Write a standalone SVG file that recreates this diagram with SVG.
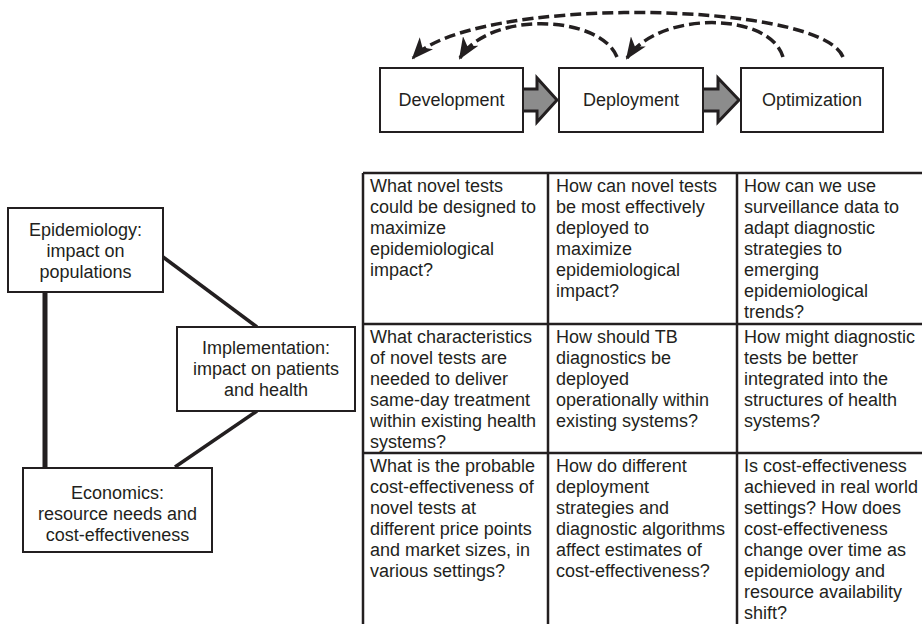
<svg xmlns="http://www.w3.org/2000/svg" width="922" height="624" viewBox="0 0 922 624">
<defs>
<style>
text{font-family:"Liberation Sans",Arial,sans-serif;font-size:18px;fill:#231f20}
.c{text-anchor:middle}
.box{fill:#fff;stroke:#231f20;stroke-width:2}
.dash{fill:none;stroke:#231f20;stroke-width:3.5;stroke-dasharray:11 5}
.blk{fill:#8c8c8c;stroke:#231f20;stroke-width:3;stroke-linejoin:miter}
.tl{stroke:#231f20;stroke-width:2.5;fill:none}
.lk{stroke:#231f20;fill:none}
</style>
<marker id="ah" viewBox="0 0 22 18" refX="20" refY="9" markerWidth="22" markerHeight="18" markerUnits="userSpaceOnUse" orient="auto">
<path d="M0,0 L22,9 L0,18 L6,9 Z" fill="#231f20"/>
</marker>
</defs>

<g id="connectors">
<path class="dash" d="M843,57 C820,0 470,-5 413,58" marker-end="url(#ah)"/>
<path class="dash" d="M617,57 C600,15 490,10 460,58" marker-end="url(#ah)"/>
<path class="dash" d="M783,57 C770,12 660,10 627,58" marker-end="url(#ah)"/>
<polygon class="blk" points="520,89 537,89 537,78 557,100 537,122 537,111 520,111"/>
<polygon class="blk" points="700,89 718,89 718,78 739,100 718,122 718,111 700,111"/>
<line class="lk" stroke-width="5" x1="45" y1="292" x2="45" y2="468"/>
<line class="lk" stroke-width="3.5" x1="163" y1="257" x2="257" y2="327"/>
<line class="lk" stroke-width="3.5" x1="257" y1="411" x2="175" y2="467"/>
</g>

<g id="development">
<rect class="box" x="380" y="68" width="143" height="64"/>
<text class="c" x="451.5" y="106">Development</text>
</g>
<g id="deployment">
<rect class="box" x="559" y="68" width="144" height="64"/>
<text class="c" x="631" y="106">Deployment</text>
</g>
<g id="optimization">
<rect class="box" x="741" y="68" width="142" height="64"/>
<text class="c" x="812" y="106">Optimization</text>
</g>

<g id="epidemiology">
<rect class="box" x="8" y="208" width="155" height="84"/>
<text class="c" x="85.5" y="236">Epidemiology:<tspan x="85.5" dy="21">impact on</tspan><tspan x="85.5" dy="21">populations</tspan></text>
</g>
<g id="implementation">
<rect class="box" x="177" y="327" width="178" height="84"/>
<text class="c" x="266" y="354">Implementation:<tspan x="266" dy="21">impact on patients</tspan><tspan x="266" dy="21">and health</tspan></text>
</g>
<g id="economics">
<rect class="box" x="23" y="468" width="189" height="84"/>
<text class="c" x="117.5" y="499">Economics:<tspan x="117.5" dy="21">resource needs and</tspan><tspan x="117.5" dy="21">cost-effectiveness</tspan></text>
</g>

<g id="table">
<path class="tl" d="M363,173 H922 M363,324 H922 M363,453 H922 M363,173 V624 M548,173 V624 M737,173 V624"/>
</g>

<g id="cell-1-1">
<text x="370" y="192">What novel tests<tspan x="370" dy="21">could be designed to</tspan><tspan x="370" dy="21">maximize</tspan><tspan x="370" dy="21">epidemiological</tspan><tspan x="370" dy="21">impact?</tspan></text>
</g>
<g id="cell-1-2">
<text x="556" y="192">How can novel tests<tspan x="556" dy="21">be most effectively</tspan><tspan x="556" dy="21">deployed to</tspan><tspan x="556" dy="21">maximize</tspan><tspan x="556" dy="21">epidemiological</tspan><tspan x="556" dy="21">impact?</tspan></text>
</g>
<g id="cell-1-3">
<text x="744" y="192">How can we use<tspan x="744" dy="21">surveillance data to</tspan><tspan x="744" dy="21">adapt diagnostic</tspan><tspan x="744" dy="21">strategies to</tspan><tspan x="744" dy="21">emerging</tspan><tspan x="744" dy="21">epidemiological</tspan><tspan x="744" dy="21">trends?</tspan></text>
</g>
<g id="cell-2-1">
<text x="370" y="343">What characteristics<tspan x="370" dy="21">of novel tests are</tspan><tspan x="370" dy="21">needed to deliver</tspan><tspan x="370" dy="21">same-day treatment</tspan><tspan x="370" dy="21">within existing health</tspan><tspan x="370" dy="21">systems?</tspan></text>
</g>
<g id="cell-2-2">
<text x="556" y="343">How should TB<tspan x="556" dy="21">diagnostics be</tspan><tspan x="556" dy="21">deployed</tspan><tspan x="556" dy="21">operationally within</tspan><tspan x="556" dy="21">existing systems?</tspan></text>
</g>
<g id="cell-2-3">
<text x="744" y="343">How might diagnostic<tspan x="744" dy="21">tests be better</tspan><tspan x="744" dy="21">integrated into the</tspan><tspan x="744" dy="21">structures of health</tspan><tspan x="744" dy="21">systems?</tspan></text>
</g>
<g id="cell-3-1">
<text x="370" y="472">What is the probable<tspan x="370" dy="21">cost-effectiveness of</tspan><tspan x="370" dy="21">novel tests at</tspan><tspan x="370" dy="21">different price points</tspan><tspan x="370" dy="21">and market sizes, in</tspan><tspan x="370" dy="21">various settings?</tspan></text>
</g>
<g id="cell-3-2">
<text x="556" y="472">How do different<tspan x="556" dy="21">deployment</tspan><tspan x="556" dy="21">strategies and</tspan><tspan x="556" dy="21">diagnostic algorithms</tspan><tspan x="556" dy="21">affect estimates of</tspan><tspan x="556" dy="21">cost-effectiveness?</tspan></text>
</g>
<g id="cell-3-3">
<text x="744" y="472">Is cost-effectiveness<tspan x="744" dy="21">achieved in real world</tspan><tspan x="744" dy="21">settings? How does</tspan><tspan x="744" dy="21">cost-effectiveness</tspan><tspan x="744" dy="21">change over time as</tspan><tspan x="744" dy="21">epidemiology and</tspan><tspan x="744" dy="21">resource availability</tspan><tspan x="744" dy="21">shift?</tspan></text>
</g>
</svg>
